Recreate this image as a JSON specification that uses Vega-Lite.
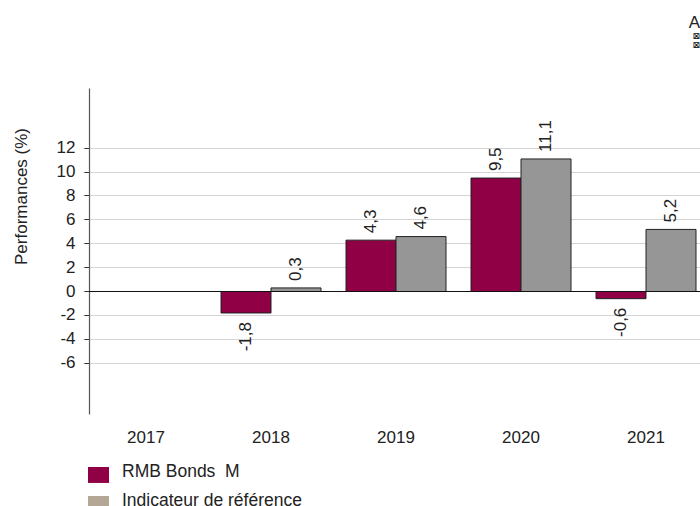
{
"$schema":"https://vega.github.io/schema/vega-lite/v6.json",
"width":610.5,"height":326,
"autosize":{"type":"none"},
"padding":{"left":89.5,"top":88.5,"right":0,"bottom":91.5},
"background":"white",
"config":{"view":{"stroke":null},"font":"Liberation Sans"},
"title":{"text":"A","subtitle":["⊠","⊠"],"anchor":"end","frame":"group","align":"right","offset":38,"font":"Liberation Sans","fontSize":17,"fontWeight":"normal","color":"#222222","subtitleFont":"DejaVu Sans","subtitleFontSize":9,"subtitleLineHeight":9,"subtitleColor":"#000000","subtitlePadding":0},
"data":{"values":[
{"year":"2017","series":"RMB Bonds  M","value":null,"label":null},
{"year":"2017","series":"Indicateur de référence","value":null,"label":null},
{"year":"2018","series":"RMB Bonds  M","value":-1.8,"label":"-1,8"},
{"year":"2018","series":"Indicateur de référence","value":0.3,"label":"0,3"},
{"year":"2019","series":"RMB Bonds  M","value":4.3,"label":"4,3"},
{"year":"2019","series":"Indicateur de référence","value":4.6,"label":"4,6"},
{"year":"2020","series":"RMB Bonds  M","value":9.5,"label":"9,5"},
{"year":"2020","series":"Indicateur de référence","value":11.1,"label":"11,1"},
{"year":"2021","series":"RMB Bonds  M","value":-0.6,"label":"-0,6"},
{"year":"2021","series":"Indicateur de référence","value":5.2,"label":"5,2"}
]},
"encoding":{
"x":{"field":"year","type":"nominal","title":null,
"scale":{"domain":["2017","2018","2019","2020","2021"],"range":[-6,619],"paddingInner":0.2,"paddingOuter":0.1},
"axis":{"labelAngle":0,"domain":false,"ticks":false,"grid":false,"labelPadding":15,"labelFontSize":17,"labelColor":"#222222","labelFont":"Liberation Sans"}},
"xOffset":{"field":"series","type":"nominal","scale":{"domain":["RMB Bonds  M","Indicateur de référence"]}},
"y":{"field":"value","type":"quantitative","title":"Performances (%)",
"scale":{"domain":[-10.3,17],"nice":false,"zero":false},
"axis":{"values":[-6,-4,-2,0,2,4,6,8,10,12],"labelExpr":"datum.value + ''","translate":0,"grid":true,"gridColor":"#d4d4d4","gridWidth":1.2,"domainColor":"#555555","domainWidth":1.2,"tickColor":"#333333","tickSize":5,"labelPadding":9,"labelFontSize":17,"labelColor":"#222222","titleFontSize":17,"titleFontWeight":"normal","titleColor":"#222222","titleFont":"Liberation Sans","titleX":-59,"titleY":108}}
},
"layer":[
{"mark":{"type":"bar","stroke":"#222222","strokeWidth":1},
"encoding":{"fill":{"condition":{"test":"datum.series === 'RMB Bonds  M'","value":"#8f0045"},"value":"#969696"}}},
{"transform":[{"filter":"false"}],"mark":{"type":"bar"},
"encoding":{"color":{"field":"series","type":"nominal",
"scale":{"domain":["RMB Bonds  M","Indicateur de référence"],"range":["#8f0045","#b3a796"]},
"legend":{"title":null,"orient":"none","legendX":-1.5,"legendY":372.5,"padding":0,"rowPadding":7,"symbolType":"M-1,-0.43H1V1.09H-1Z","symbolSize":441,"symbolStrokeWidth":0,"labelOffset":13,"labelFontSize":17.5,"labelColor":"#222222","labelFont":"Liberation Sans","labelLimit":400,
"labelExpr":"replace(datum.label, '  ', ' \u00a0')"}}}},
{"mark":{"type":"rule","color":"#111111","strokeWidth":1},"encoding":{"x":null,"xOffset":null,"y":{"datum":0}}},
{"transform":[{"filter":"datum.value > 0"}],
"mark":{"type":"text","angle":270,"align":"left","baseline":"middle","dx":7,"fontSize":17,"color":"#222222"},
"encoding":{"text":{"field":"label","type":"nominal"}}},
{"transform":[{"filter":"datum.value < 0"}],
"mark":{"type":"text","angle":270,"align":"right","baseline":"middle","dx":-9,"fontSize":17,"color":"#222222"},
"encoding":{"text":{"field":"label","type":"nominal"}}}
]
}
